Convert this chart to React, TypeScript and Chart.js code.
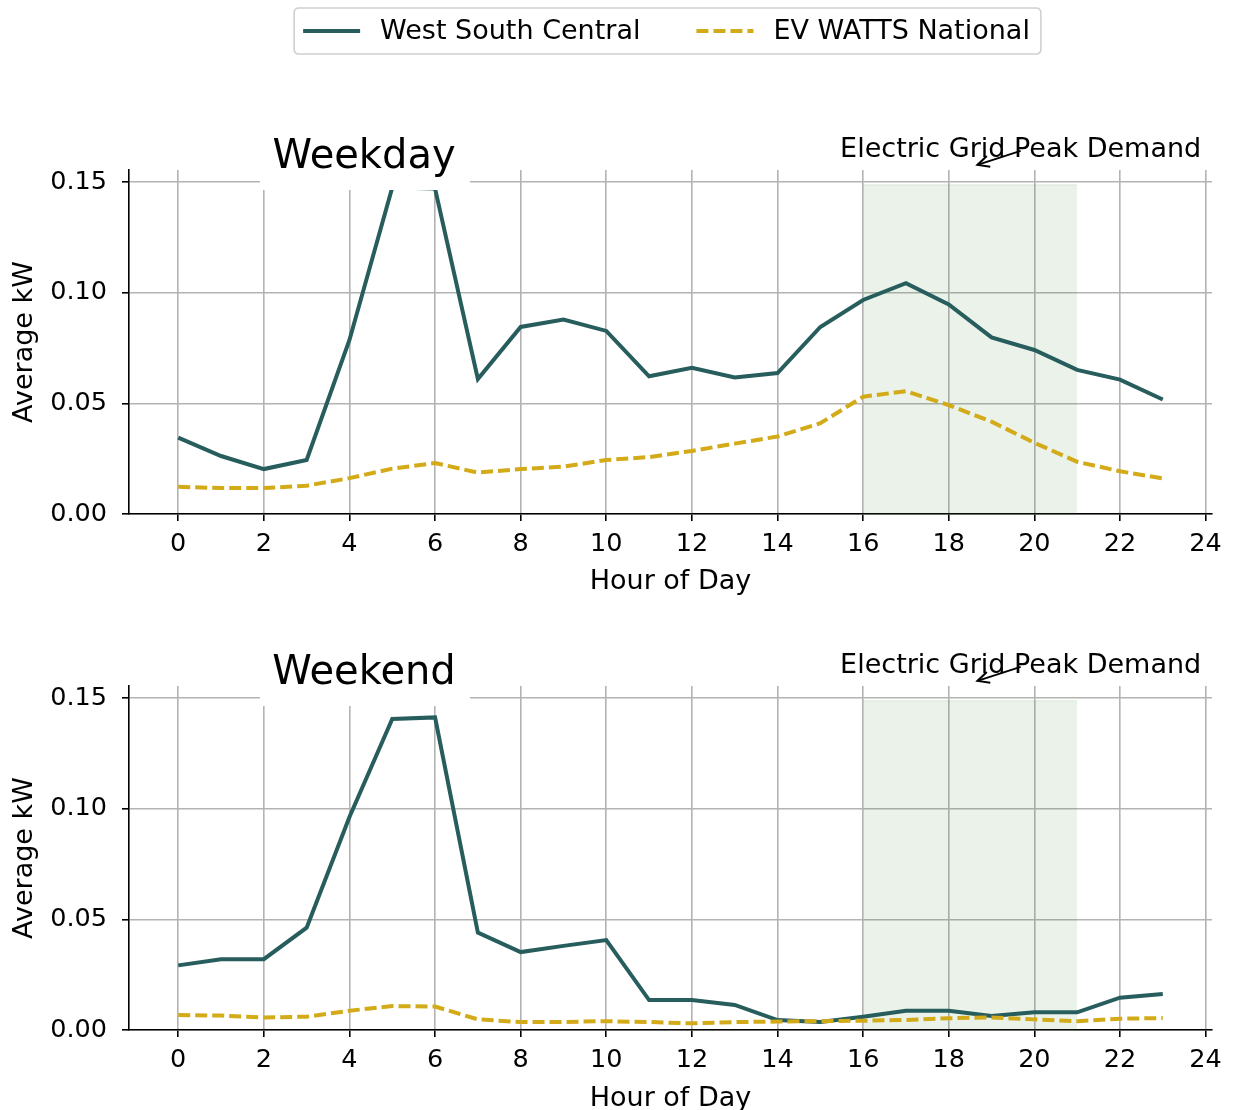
import React, { useEffect, useRef } from "react";
import { Chart, registerables } from "chart.js";

Chart.register(...registerables);

// ---------------- data ----------------
const hours = [0, 1, 2, 3, 4, 5, 6, 7, 8, 9, 10, 11, 12, 13, 14, 15, 16, 17, 18, 19, 20, 21, 22, 23];

const weekdayRegion = [0.0345, 0.0262, 0.0203, 0.0244, 0.0786, 0.1475, 0.147, 0.061, 0.0845, 0.0878, 0.0827, 0.0622, 0.066, 0.0617, 0.0637, 0.0845, 0.0967, 0.1043, 0.0947, 0.0798, 0.0741, 0.0651, 0.0607, 0.0517];
const weekdayNational = [0.0123, 0.0117, 0.0117, 0.0128, 0.0162, 0.0205, 0.023, 0.0187, 0.0203, 0.0214, 0.0244, 0.0257, 0.0285, 0.0318, 0.035, 0.041, 0.053, 0.0555, 0.0492, 0.0417, 0.0322, 0.0236, 0.0193, 0.0161];

const weekendRegion = [0.0292, 0.032, 0.032, 0.0462, 0.0962, 0.1405, 0.1412, 0.044, 0.0352, 0.038, 0.0406, 0.0135, 0.0135, 0.0113, 0.0045, 0.0036, 0.006, 0.0087, 0.0087, 0.0063, 0.008, 0.008, 0.0146, 0.0163];
const weekendNational = [0.0068, 0.0065, 0.0057, 0.006, 0.0087, 0.0108, 0.0106, 0.0048, 0.0036, 0.0036, 0.004, 0.0036, 0.003, 0.0036, 0.0038, 0.004, 0.0042, 0.0045, 0.0053, 0.0057, 0.0048, 0.004, 0.0051, 0.0054];

const seriesNames = ["West South Central", "EV WATTS National"];
const panelTitles = ["Weekday", "Weekend"];

const peakHours = [16, 21];
const peakTop = 0.1487;

const xTicks = [0, 2, 4, 6, 8, 10, 12, 14, 16, 18, 20, 22, 24];
const yTicks = [0, 0.05, 0.1, 0.15];
const xRange = [-1.15, 24.15];
const yRange = [0, 0.1554];

const annotationText = "Electric Grid Peak Demand";
const annotationTextPos = [19.68, 0.1645];
const annotationArrowHead = [18.67, 0.1577];

const xTitle = "Hour of Day";
const yTitle = "Average kW";

// ---------------- styles ----------------
const FONT = "'DejaVu Sans', 'Liberation Sans', sans-serif";
const REGION_COLOR = "#275d5c";
const NATIONAL_COLOR = "#d3aa18";
const GRID_COLOR = "#b3b3b3";

const legendPlugin = {
  id: "boxLegend",
  afterDraw(chart: any) {
    const ctx = chart.ctx;
    const items = seriesNames.map((n) => chart.data.datasets.find((d: any) => d.label === n));
    ctx.save();
    ctx.font = `27px ${FONT}`;
    const lineLen = 57;
    const gapLineText = 20;
    const gapItems = 56;
    const padL = 9;
    const padR = 11;
    const widths = items.map((d: any) => ctx.measureText(d.label).width);
    const total = padL + lineLen + gapLineText + widths[0] + gapItems + lineLen + gapLineText + widths[1] + padR;
    const cx = 667.5;
    const bx = cx - total / 2;
    const by = 8;
    const bh = 46;
    ctx.beginPath();
    const r = 5;
    ctx.moveTo(bx + r, by);
    ctx.lineTo(bx + total - r, by);
    ctx.quadraticCurveTo(bx + total, by, bx + total, by + r);
    ctx.lineTo(bx + total, by + bh - r);
    ctx.quadraticCurveTo(bx + total, by + bh, bx + total - r, by + bh);
    ctx.lineTo(bx + r, by + bh);
    ctx.quadraticCurveTo(bx, by + bh, bx, by + bh - r);
    ctx.lineTo(bx, by + r);
    ctx.quadraticCurveTo(bx, by, bx + r, by);
    ctx.closePath();
    ctx.fillStyle = "rgba(255,255,255,0.8)";
    ctx.fill();
    ctx.strokeStyle = "#d0d0d0";
    ctx.lineWidth = 1.6;
    ctx.stroke();

    const yMid = by + bh / 2;
    let x = bx + padL;
    items.forEach((d: any, i: number) => {
      ctx.beginPath();
      ctx.setLineDash(d.borderDash || []);
      ctx.strokeStyle = d.borderColor;
      ctx.lineWidth = d.borderWidth;
      ctx.moveTo(x, yMid);
      ctx.lineTo(x + lineLen, yMid);
      ctx.stroke();
      ctx.setLineDash([]);
      x += lineLen + gapLineText;
      ctx.fillStyle = "#000";
      ctx.textBaseline = "middle";
      ctx.textAlign = "left";
      ctx.fillText(d.label, x, yMid + 1);
      x += widths[i] + gapItems;
    });
    ctx.restore();
  },
};

function makeTitlePlugin(title: string) {
  return {
    id: "panelTitle",
    afterDraw(chart: any) {
      const { ctx, chartArea } = chart;
      const xs = chart.scales.x;
      const ys = chart.scales.y;
      ctx.save();
      ctx.fillStyle = "#ffffff";
      ctx.fillRect(260, chartArea.top - 60, 210, 80);
      ctx.fillStyle = "#000";
      ctx.font = `40px ${FONT}`;
      ctx.textAlign = "center";
      ctx.textBaseline = "alphabetic";
      ctx.fillText(title, 364, chartArea.top - 2);

      const tx = xs.getPixelForValue(annotationTextPos[0]);
      const ty = ys.getPixelForValue(annotationTextPos[1]);
      const hx = xs.getPixelForValue(annotationArrowHead[0]);
      const hy = ys.getPixelForValue(annotationArrowHead[1]);
      ctx.font = `27px ${FONT}`;
      ctx.textBaseline = "middle";
      ctx.fillText(annotationText, tx, ty);
      ctx.strokeStyle = "#000";
      ctx.lineWidth = 2;
      ctx.beginPath();
      ctx.moveTo(tx, ty + 1);
      ctx.lineTo(hx, hy);
      ctx.stroke();
      const ang = Math.atan2(ty + 1 - hy, tx - hx);
      const hl = 13;
      const spread = 0.45;
      ctx.beginPath();
      ctx.moveTo(hx + hl * Math.cos(ang + spread), hy + hl * Math.sin(ang + spread));
      ctx.lineTo(hx, hy);
      ctx.lineTo(hx + hl * Math.cos(ang - spread), hy + hl * Math.sin(ang - spread));
      ctx.stroke();
      ctx.restore();
    },
  };
}

type PanelProps = {
  title: string;
  region: number[];
  national: number[];
  height: number;
  topPad: number;
  xAxisHeight: number;
  xTitlePad: number;
  legend: boolean;
};

function Panel(props: PanelProps) {
  const ref = useRef<HTMLCanvasElement | null>(null);
  useEffect(() => {
    if (!ref.current) return;
    const plugins: any[] = [makeTitlePlugin(props.title)];
    if (props.legend) plugins.push(legendPlugin);
    const chart = new Chart(ref.current, {
      type: "line",
      data: {
        datasets: [
          {
            label: seriesNames[1],
            data: hours.map((h, i) => ({ x: h, y: props.national[i] })),
            borderColor: NATIONAL_COLOR,
            borderWidth: 4,
            borderDash: [12, 5],
            pointRadius: 0,
            fill: false,
            tension: 0,
            order: 0,
          },
          {
            label: seriesNames[0],
            data: hours.map((h, i) => ({ x: h, y: props.region[i] })),
            borderColor: REGION_COLOR,
            borderWidth: 4,
            pointRadius: 0,
            fill: false,
            tension: 0,
            order: 1,
          },
          {
            label: "peak",
            data: peakHours.map((h) => ({ x: h, y: peakTop })),
            borderColor: "rgba(46,125,50,0.12)",
            borderWidth: 1,
            backgroundColor: "rgba(46,125,50,0.1)",
            pointRadius: 0,
            fill: "origin",
            order: 2,
          },
        ] as any,
      },
      options: {
        responsive: false,
        animation: false,
        devicePixelRatio: 1,
        layout: { padding: { left: 0, right: 22, top: props.topPad, bottom: 0 } },
        plugins: { legend: { display: false }, tooltip: { enabled: false } },
        scales: {
          x: {
            type: "linear",
            min: xRange[0],
            max: xRange[1],
            afterBuildTicks: (s: any) => {
              s.ticks = xTicks.map((v) => ({ value: v }));
            },
            afterFit: (s: any) => {
              s.height = props.xAxisHeight;
            },
            ticks: {
              callback: (v: any) => String(v),
              font: { family: FONT, size: 25.5 },
              color: "#000",
              padding: 8,
              maxRotation: 0,
              autoSkip: false,
            },
            grid: { color: GRID_COLOR, lineWidth: 1.6, tickLength: 7, tickColor: "#000", tickWidth: 1.6 },
            border: { display: true, color: "#000", width: 1.6 },
            title: {
              display: true,
              text: xTitle,
              font: { family: FONT, size: 27 },
              color: "#000",
              padding: { top: 0, bottom: props.xTitlePad },
            },
          },
          y: {
            type: "linear",
            min: yRange[0],
            max: yRange[1],
            afterBuildTicks: (s: any) => {
              s.ticks = yTicks.map((v) => ({ value: v }));
            },
            afterFit: (s: any) => {
              s.width = 129;
            },
            ticks: {
              callback: (v: any) => Number(v).toFixed(2),
              font: { family: FONT, size: 25.5 },
              color: "#000",
              padding: 15,
            },
            grid: { color: GRID_COLOR, lineWidth: 1.6, tickLength: 7, tickColor: "#000", tickWidth: 1.6 },
            border: { display: true, color: "#000", width: 1.6 },
            title: {
              display: true,
              text: yTitle,
              font: { family: FONT, size: 27 },
              color: "#000",
              padding: { top: 9, bottom: 0 },
            },
          },
        },
      } as any,
      plugins,
    });
    return () => chart.destroy();
  }, []);
  return <canvas ref={ref} width={1234} height={props.height} style={{ display: "block" }} />;
}

export default function App() {
  return (
    <div style={{ position: "absolute", left: 0, top: 0, width: 1234, height: 1110, background: "#fff", overflow: "hidden" }}>
      <Panel title={panelTitles[0]} region={weekdayRegion} national={weekdayNational} height={600} topPad={170} xAxisHeight={86} xTitlePad={1.5} legend={true} />
      <Panel title={panelTitles[1]} region={weekendRegion} national={weekendNational} height={515} topPad={86} xAxisHeight={85} xTitlePad={0} legend={false} />
    </div>
  );
}
